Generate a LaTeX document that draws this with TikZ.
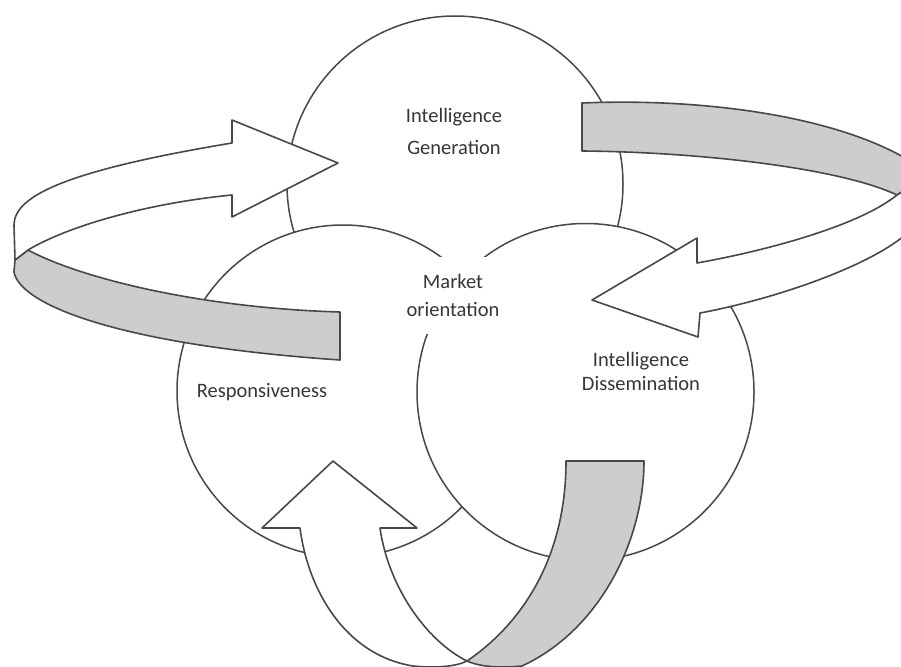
\documentclass[tikz,border=0pt]{standalone}
\usepackage{fontspec}
\setmainfont{Carlito}
\definecolor{lineg}{HTML}{484848}
\definecolor{bandg}{HTML}{CDCDCD}
\definecolor{txtg}{HTML}{363636}
\begin{document}
\begin{tikzpicture}[x=1pt,y=-1pt,
  outline/.style={draw=lineg, line width=1.6pt, line join=round},
  disc/.style={circle, draw=lineg, line width=1.5pt, fill=white, inner sep=0pt},
  back/.style={outline, fill=bandg},
  front/.style={outline, fill=white},
  lbl/.style={text=txtg, align=center, inner sep=0pt,
              font=\fontsize{20.5}{32}\selectfont}]
\useasboundingbox (0,0) rectangle (901,666);
\clip (0,0) rectangle (901,666);

% the three overlapping circles
\node[disc, minimum size=336pt] (gen)  at (455,184)   {};
\node[disc, minimum size=332pt] (resp) at (343,391)   {};
\node[disc, minimum size=337pt] (diss) at (585.5,392) {};

% centre label on a white patch
\node[lbl, fill=white, minimum width=96pt, minimum height=77pt,
      font=\fontsize{20.5}{28}\selectfont] (mo) at (453,295) {Market\\orientation};

% left ribbon arrow: back band, then front band with head
\draw[back] (28,250) -- (15,260) -- (14,272)
  .. controls (20,305) and (120,345) .. (340,360) -- (340,312)
  .. controls (200,308) and (80,278) .. (28,250) -- cycle;
\draw[front] (14,225) .. controls (14,195) and (70,170) .. (232,143)
  -- (232,120) -- (338,163) -- (232,217) -- (232,195)
  .. controls (150,203) and (70,225) .. (28,250) -- (15,260) -- cycle;

% right ribbon arrow
\draw[back] (582,103) .. controls (700,98) and (830,115) .. (905,158)
  -- (905,190) -- (897,195)
  .. controls (840,168) and (700,152) .. (582,151) -- cycle;
\draw[front] (592,300) -- (697,238) -- (697,263)
  .. controls (770,250) and (860,225) .. (897,195) -- (905,190) -- (905,235)
  .. controls (870,265) and (780,298) .. (700,313) -- (698,337) -- cycle;

% bottom ribbon arrow
\draw[back] (467,661) .. controls (520,625) and (566,560) .. (566,461)
  -- (644,461) .. controls (644,540) and (600,630) .. (522,666)
  .. controls (500,668) and (480,667) .. (467,661) -- cycle;
\draw[front] (467,661) .. controls (425,640) and (388,585) .. (380,528)
  -- (417,528) -- (333,461) -- (262,528) -- (300,528)
  .. controls (308,590) and (345,655) .. (413,666)
  .. controls (435,668) and (455,667) .. (467,661) -- cycle;

% circle labels
\node[lbl] (genl) at (454,131) {Intelligence\\Generation};
\node[lbl, font=\fontsize{20.5}{24}\selectfont] (dissl) at (641,371) {Intelligence\\Dissemination};
\node[lbl] (respl) at (262,392) {Responsiveness};
\end{tikzpicture}
\end{document}
